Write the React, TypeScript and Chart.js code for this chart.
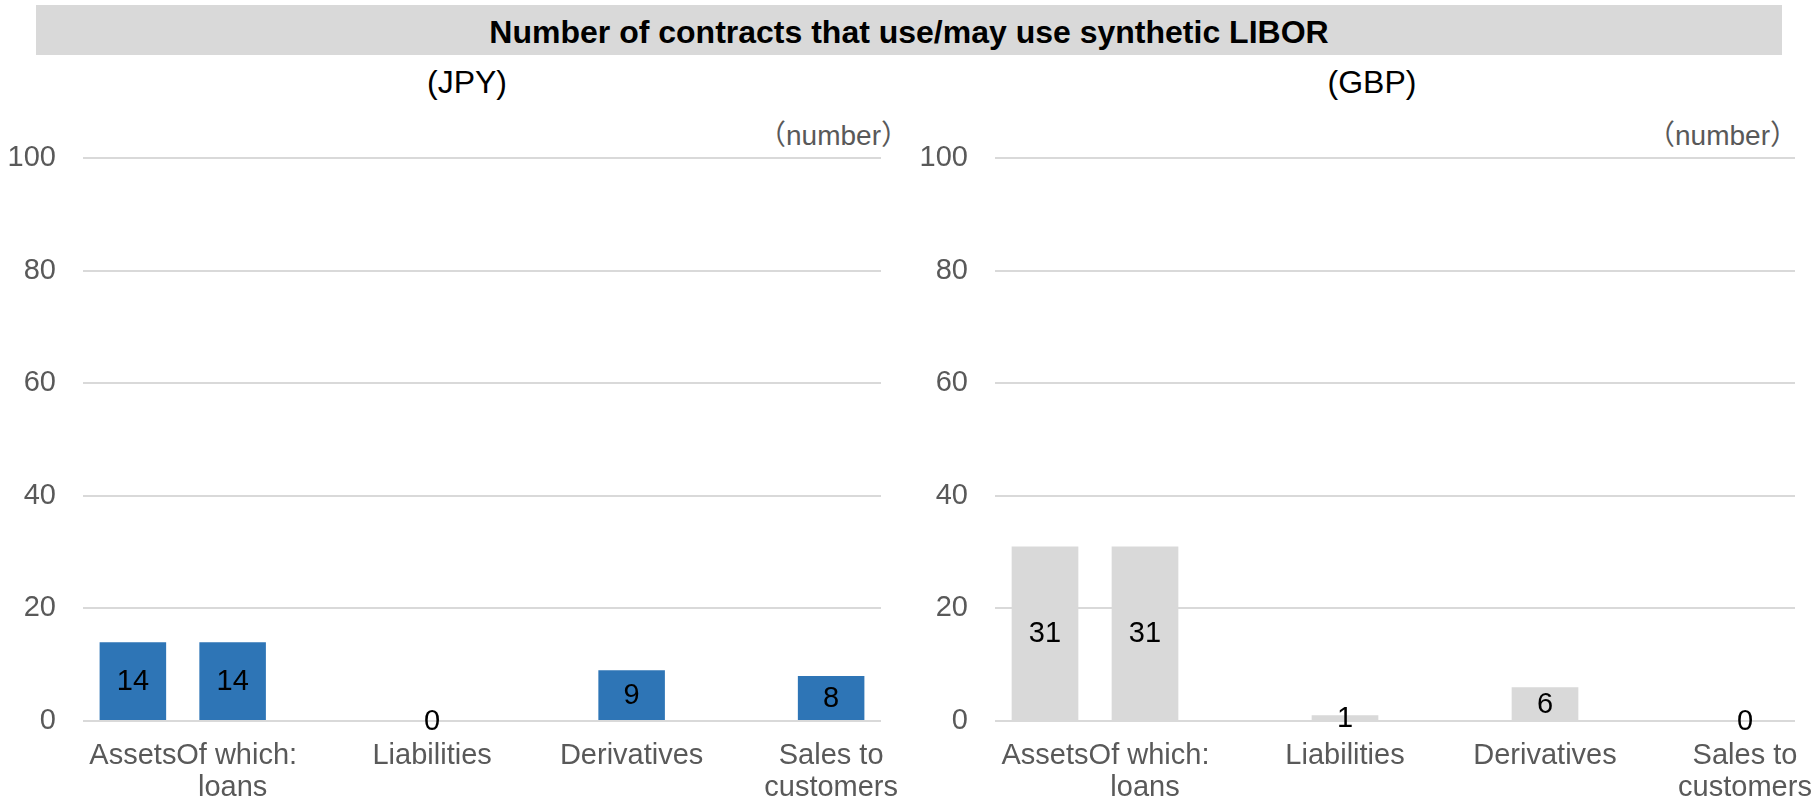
import React, { useEffect, useRef } from "react";
import { Chart, registerables } from "chart.js";

Chart.register(...registerables);

// ---- data ----
const chartTitle = "Number of contracts that use/may use synthetic LIBOR";
const panelTitles = ["(JPY)", "(GBP)"];
const unitLabel = "（number）";
const categories: (string | string[])[] = [
  "Assets",
  [" Of which:", "loans"],
  "",
  "Liabilities",
  "",
  "Derivatives",
  "",
  ["Sales to", "customers"],
];
const jpyValues: (number | null)[] = [14, 14, null, 0, null, 9, null, 8];
const gbpValues: (number | null)[] = [31, 31, null, 1, null, 6, null, 0];
const yTicks = [0, 20, 40, 60, 80, 100];

const FONT = "'Liberation Sans', Arial, sans-serif";
Chart.defaults.font.family = FONT;

const valueLabelPlugin = {
  id: "valueLabels",
  afterDatasetsDraw(chart: any) {
    const ctx = chart.ctx;
    chart.data.datasets.forEach((ds: any, di: number) => {
      const meta = chart.getDatasetMeta(di);
      meta.data.forEach((el: any, i: number) => {
        const v = ds.data[i];
        if (v === null || v === undefined) return;
        const { x, y, base } = el.getProps(["x", "y", "base"], true);
        ctx.save();
        ctx.font = `29px ${FONT}`;
        ctx.fillStyle = "#000000";
        ctx.textAlign = "center";
        ctx.textBaseline = "middle";
        ctx.fillText(String(v), x, (y + base) / 2 + 1);
        ctx.restore();
      });
    });
  },
};

type PanelProps = {
  left: number;
  yAxisWidth: number;
  padRight: number;
  values: (number | null)[];
  color: string;
};

function Panel({ left, yAxisWidth, padRight, values, color }: PanelProps) {
  const ref = useRef<HTMLCanvasElement | null>(null);
  useEffect(() => {
    if (!ref.current) return;
    const chart = new Chart(ref.current, {
      type: "bar",
      data: {
        labels: categories as any,
        datasets: [
          {
            data: values as any,
            backgroundColor: color,
            borderWidth: 0,
            barPercentage: 0.667,
            categoryPercentage: 1,
          },
        ],
      },
      options: {
        responsive: false,
        animation: false,
        layout: { padding: { top: 38, right: padRight, left: 0, bottom: 0 } },
        plugins: { legend: { display: false }, tooltip: { enabled: false } },
        scales: {
          x: {
            grid: { display: false, drawTicks: false },
            border: { display: false },
            ticks: {
              color: "#595959",
              font: { size: 29, lineHeight: 1.1 },
              padding: 19,
              maxRotation: 0,
              minRotation: 0,
              autoSkip: false,
            },
            afterFit: (s: any) => {
              s.height = 86;
              s.paddingLeft = 0;
              s.paddingRight = 0;
            },
          },
          y: {
            min: yTicks[0],
            max: yTicks[yTicks.length - 1],
            ticks: {
              stepSize: yTicks[1] - yTicks[0],
              color: "#595959",
              font: { size: 29 },
              padding: 27,
            },
            grid: { color: "#d9d9d9", lineWidth: 2, drawTicks: false },
            border: { display: false },
            afterFit: (s: any) => {
              s.width = yAxisWidth;
              s.paddingTop = 0;
              s.paddingBottom = 0;
            },
          },
        },
      } as any,
      plugins: [valueLabelPlugin],
    });
    return () => chart.destroy();
  }, []);
  return (
    <canvas
      ref={ref}
      width={908}
      height={687}
      style={{ position: "absolute", left, top: 120 }}
    />
  );
}

export default function App() {
  return (
    <div
      style={{
        position: "absolute",
        left: 0,
        top: 0,
        width: 1816,
        height: 807,
        background: "#ffffff",
        overflow: "hidden",
        fontFamily: FONT,
      }}
    >
      <div
        style={{
          position: "absolute",
          left: 36,
          top: 5,
          width: 1746,
          height: 50,
          background: "#d9d9d9",
        }}
      />
      <div
        style={{
          position: "absolute",
          left: 36,
          top: 16,
          width: 1746,
          lineHeight: "32px",
          fontSize: 32,
          fontWeight: "bold",
          textAlign: "center",
          color: "#000",
          whiteSpace: "nowrap",
        }}
      >
        {chartTitle}
      </div>
      {[467, 1372].map((cx, i) => (
        <div
          key={"t" + i}
          style={{
            position: "absolute",
            left: cx - 150,
            top: 66,
            width: 300,
            lineHeight: "32px",
            fontSize: 32,
            textAlign: "center",
            color: "#000",
            whiteSpace: "nowrap",
          }}
        >
          {panelTitles[i]}
        </div>
      ))}
      {[909, 1798].map((rx, i) => (
        <div
          key={"u" + i}
          style={{
            position: "absolute",
            left: rx - 300,
            top: 122,
            width: 300,
            lineHeight: "28px",
            fontSize: 28,
            textAlign: "right",
            color: "#595959",
            whiteSpace: "nowrap",
            fontFamily: "'Liberation Sans', 'Noto Sans CJK JP', sans-serif",
          }}
        >
          {unitLabel}
        </div>
      ))}
      <Panel left={0} yAxisWidth={83} padRight={27} values={jpyValues} color="#2e75b6" />
      <Panel left={908} yAxisWidth={87} padRight={21} values={gbpValues} color="#d9d9d9" />
    </div>
  );
}
